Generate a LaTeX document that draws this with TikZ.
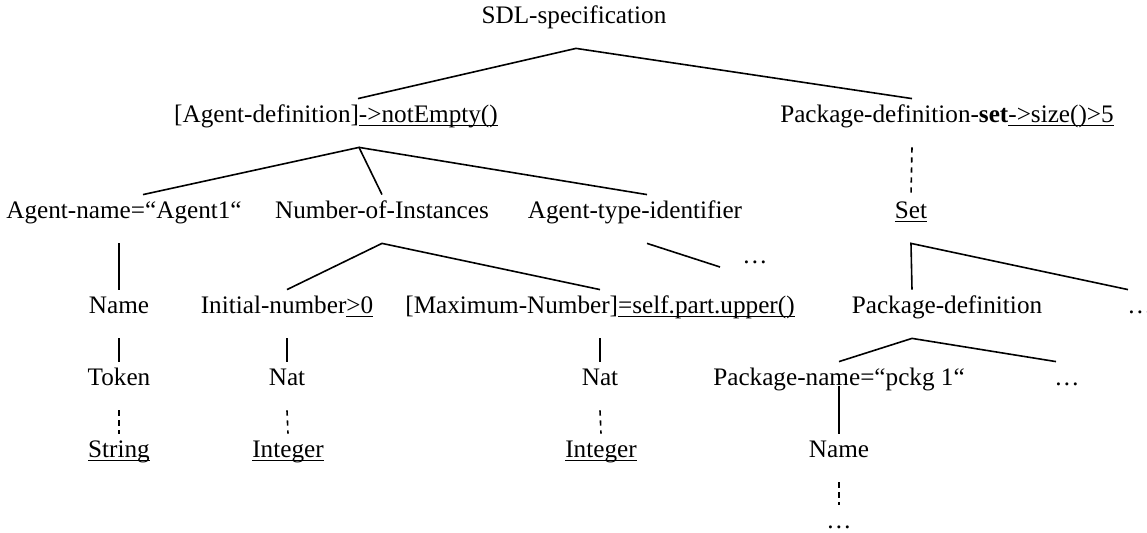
\documentclass[tikz,border=0pt]{standalone}
\usepackage{fontspec}
\setmainfont{Liberation Serif}
\usepackage{tikz}
\usetikzlibrary{positioning}

\newcommand{\undl}[1]{\setbox0\hbox{#1}\rlap{\rule[-1.7pt]{\wd0}{0.7pt}}\box0}

\begin{document}
\begin{tikzpicture}[
  x=0.5pt, y=-0.5pt,
  lbl/.style={anchor=base, inner xsep=1pt, inner ysep=0pt,
              text height=12pt, text depth=12pt,
              font=\fontsize{12.6}{15}\selectfont},
  branch/.style={line width=0.8pt},
  dashlink/.style={line width=0.8pt, dash pattern=on 2.6pt off 2.4pt},
]
\useasboundingbox (0,0) rectangle (1147,533);

\node[lbl] (root) at (574,24) {SDL-specification};

\node[lbl] (agdef) at (336,123) {[Agent-definition]\undl{->notEmpty()}};
\node[lbl] (pkgset) at (947,123) {Package-definition-\textbf{set}\undl{->size()>5}};

\node[lbl] (agname) at (124,219) {Agent-name=“Agent1“};
\node[lbl] (numinst) at (382,219) {Number-of-Instances};
\node[lbl] (agtype) at (635,219) {Agent-type-identifier};
\node[lbl] (set) at (911,219) {\undl{Set}};
\node[lbl] (dotsa) at (755,264) {\ldots};

\node[lbl] (namea) at (119,314) {Name};
\node[lbl] (initnum) at (287,314) {Initial-number\undl{>0}};
\node[lbl] (maxnum) at (600,314) {[Maximum-Number]\undl{=self.part.upper()}};
\node[lbl] (pkgdef) at (947,314) {Package-definition};
\node[lbl] (dotsb) at (1140,314) {\ldots};

\node[lbl] (token) at (119,386) {Token};
\node[lbl] (nata) at (287,386) {Nat};
\node[lbl] (natb) at (600,386) {Nat};
\node[lbl] (pkgname) at (839,386) {Package-name=“pckg 1“};
\node[lbl] (dotsc) at (1067,386) {\ldots};

\node[lbl] (string) at (119,458) {\undl{String}};
\node[lbl] (inta) at (288,458) {\undl{Integer}};
\node[lbl] (intb) at (601,458) {\undl{Integer}};
\node[lbl] (nameb) at (839,458) {Name};
\node[lbl] (dotsd) at (839,529) {\ldots};

\draw[branch] ([xshift=11pt]agdef.north) -- ([xshift=1pt]root.south) -- ([xshift=-17.5pt]pkgset.north);
\draw[branch] ([xshift=9.5pt]agname.north) -- ([xshift=11.5pt]agdef.south) -- (numinst.north);
\draw[branch] ([xshift=11.5pt]agdef.south) -- ([xshift=6pt]agtype.north);
\draw[dashlink] ([xshift=-17.5pt]pkgset.south) -- (set.north);

\draw[branch] (initnum.north) -- (numinst.south) -- (maxnum.north);
\draw[branch] ([xshift=6pt]agtype.south) -- ([xshift=-10pt,yshift=-1.5pt]dotsa.west);
\draw[branch] ([xshift=-17.5pt]pkgdef.north) -- (set.south) -- ([xshift=-6pt]dotsb.north);
\draw[branch] ([xshift=-2.5pt]agname.south) -- (namea.north);

\draw[branch] (namea.south) -- (token.north);
\draw[branch] (initnum.south) -- (nata.north);
\draw[branch] (maxnum.south) -- (natb.north);
\draw[branch] (pkgname.north) -- ([xshift=-17.5pt]pkgdef.south) -- ([xshift=-5.5pt]dotsc.north);
\draw[branch] (pkgname.base) -- (nameb.north);

\draw[dashlink] (token.south) -- (string.north);
\draw[dashlink] (nata.south) -- (inta.north);
\draw[dashlink] (natb.south) -- (intb.north);
\draw[dashlink] (nameb.south) -- (dotsd.north);
\end{tikzpicture}
\end{document}
